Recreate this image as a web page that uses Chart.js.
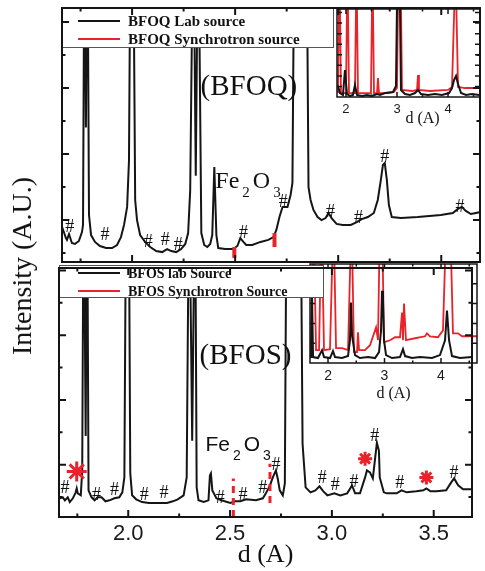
<!DOCTYPE html>
<html lang="en">
<head>
<meta charset="utf-8">
<title>BFOQ / BFOS</title>
<script src="https://cdn.jsdelivr.net/npm/chart.js@4.4.1/dist/chart.umd.min.js"></script>
<style>
  html, body { margin: 0; padding: 0; background: #fff; }
  #figura { position: relative; width: 485px; height: 571px; overflow: hidden; background: #fff; }
  #figura canvas { position: absolute; }
  #eixoY {
    position: absolute; left: 22px; top: 266px;
    transform: translate(-50%, -50%) rotate(-90deg);
    font: 28px "Liberation Serif", "Times New Roman", serif;
    white-space: nowrap; color: #111;
  }
</style>
</head>
<body>
<div id="figura">
  <canvas id="insetQ" width="155" height="130" style="left:330px;top:0px;width:155px;height:130px"></canvas>
  <canvas id="insetS" width="182" height="145" style="left:303px;top:258px;width:182px;height:145px"></canvas>
  <canvas id="painelS" width="485" height="316" style="left:0px;top:255px;width:485px;height:316px"></canvas>
  <canvas id="painelQ" width="485" height="270" style="left:0px;top:0px;width:485px;height:270px"></canvas>
  <div id="eixoY">Intensity (A.U.)</div>
</div>
<script>
// ---- dados ----
// eixo x: d (A); intensidade em unidades arbitrarias (0-100 por painel, picos acima de 100 saem do quadro)

// painel superior, BFOQ fonte de laboratorio
const dQ = [1.660, 1.669, 1.679, 1.684, 1.694, 1.708, 1.723, 1.742, 1.757, 1.762, 1.769, 1.776, 1.783, 1.791, 1.801,
  1.820, 1.844, 1.874, 1.903, 1.927, 1.946, 1.961, 1.976, 1.985, 1.993, 2.005, 2.015, 2.024, 2.039, 2.063, 2.088,
  2.117, 2.146, 2.170, 2.190, 2.214, 2.238, 2.258, 2.272, 2.282, 2.297, 2.309, 2.321, 2.336, 2.350, 2.365, 2.379,
  2.389, 2.399, 2.409, 2.418, 2.452, 2.491, 2.511, 2.525, 2.540, 2.554, 2.583, 2.623, 2.661, 2.686, 2.700, 2.715,
  2.730, 2.754, 2.769, 2.778, 2.788, 2.846, 2.856, 2.866, 2.880, 2.900, 2.919, 2.939, 2.953, 2.968, 2.992, 3.022,
  3.061, 3.090, 3.114, 3.144, 3.173, 3.192, 3.207, 3.217, 3.226, 3.236, 3.246, 3.260, 3.304, 3.386, 3.498, 3.556,
  3.581, 3.600, 3.619, 3.644, 3.668, 3.692];
const intQ = [13.8, 11.8, 9.4, 8.7, 11.0, 7.5, 7.1, 8.3, 11.8, 14.6, 140, 53, 140, 18.5, 10.6,
  7.9, 6.3, 5.5, 5.5, 6.7, 9.8, 14.6, 21.7, 40, 140, 140, 24.4, 16.5, 10.6, 7.9, 5.9,
  4.3, 3.9, 5.1, 4.3, 3.9, 5.1, 7.1, 11.4, 28.3, 140, 34, 140, 11.4, 6.7, 5.9, 7.1,
  10.6, 37.4, 10.6, 5.5, 5.1, 5.1, 6.3, 9.4, 7.9, 6.7, 6.7, 7.9, 8.7, 9.8, 12.6, 17.7,
  21.7, 21.7, 26.4, 31.1, 140, 140, 29.5, 24.4, 20.5, 17.7, 16.5, 17.3, 19.3, 17.3, 15.0, 14.6,
  14.6, 15.7, 16.9, 17.7, 19.3, 24.4, 32.3, 38.2, 39.0, 32.3, 22.4, 17.7, 17.3, 17.7, 18.5, 19.3,
  20.9, 21.7, 20.1, 18.9, 19.3, 19.7];

// painel inferior, BFOS fonte de laboratorio
const dS = [1.664, 1.679, 1.689, 1.703, 1.713, 1.728, 1.742, 1.747, 1.752, 1.767, 1.774, 1.781, 1.791, 1.798, 1.805,
  1.820, 1.835, 1.849, 1.869, 1.888, 1.908, 1.932, 1.956, 1.971, 1.981, 1.990, 2.002, 2.010, 2.019, 2.039, 2.068,
  2.102, 2.151, 2.190, 2.219, 2.243, 2.272, 2.287, 2.299, 2.314, 2.328, 2.336, 2.345, 2.370, 2.394, 2.401, 2.406,
  2.413, 2.433, 2.457, 2.501, 2.525, 2.550, 2.579, 2.627, 2.661, 2.676, 2.696, 2.710, 2.725, 2.734, 2.744, 2.759,
  2.769, 2.778, 2.846, 2.856, 2.871, 2.895, 2.919, 2.939, 2.958, 2.978, 3.012, 3.041, 3.075, 3.099, 3.114, 3.138,
  3.163, 3.172, 3.187, 3.201, 3.211, 3.221, 3.231, 3.235, 3.255, 3.269, 3.318, 3.342, 3.367, 3.415, 3.449, 3.464,
  3.484, 3.513, 3.561, 3.586, 3.600, 3.620, 3.644, 3.688];
const intS = [7.5, 7.9, 6.7, 7.9, 6.0, 7.5, 9.9, 11.5, 9.5, 8.7, 18.7, 140, 32.5, 140, 10.7,
  7.9, 6.7, 7.9, 7.9, 6.3, 6.7, 7.5, 7.9, 9.9, 15.9, 140, 140, 17.5, 8.7, 7.1, 6.0,
  5.6, 5.6, 5.6, 6.3, 7.1, 8.7, 15.9, 140, 30.6, 140, 11.9, 6.7, 6.0, 6.7, 16.7, 17.5,
  10.7, 7.5, 6.7, 5.6, 6.3, 6.3, 7.1, 6.7, 7.5, 9.5, 12.7, 15.9, 18.7, 15.5, 10.7, 8.7,
  13.5, 140, 140, 29.4, 11.9, 9.9, 10.7, 12.3, 10.3, 8.7, 9.5, 8.7, 9.5, 12.7, 9.5, 9.5,
  15.9, 18.7, 17.9, 15.5, 22.6, 29.8, 26.6, 15.9, 9.9, 9.5, 9.5, 10.7, 9.9, 10.3, 10.7, 11.5,
  10.3, 10.3, 10.7, 13.9, 15.5, 12.7, 11.1, 11.1];

// inset superior (BFOQ)
const dQiLab = [1.843, 1.882, 1.941, 1.980, 2.020, 2.078, 2.137, 2.176, 2.216, 2.314, 2.412, 2.510, 2.608, 2.667,
  2.765, 2.922, 2.980, 3.010, 3.049, 3.078, 3.157, 3.255, 3.353, 3.412, 3.471, 3.608, 3.745, 3.882, 4.020, 4.078,
  4.118, 4.157, 4.196, 4.255, 4.353, 4.471, 4.608];
const intQiLab = [13, 4.5, 2.3, 30.7, 3.4, 1.1, 2.3, 13.6, 2.3, 1.1, 2.3, 1.1, 3.4, 2.3,
  4.5, 5.7, 12.5, 150, 150, 8, 3.4, 2.3, 4.5, 8, 3.4, 2.3, 3.4, 2.3, 4.5, 10.2,
  19.3, 23.9, 14.8, 4.5, 2.3, 3.4, 2.3];
const dQiSin = [1.843, 1.873, 1.902, 2.000, 2.029, 2.059, 2.176, 2.206, 2.235, 2.373, 2.490, 2.520, 2.549, 2.608,
  2.627, 2.647, 2.824, 2.941, 3.000, 3.029, 3.069, 3.098, 3.294, 3.392, 3.412, 3.431, 3.647, 4.000, 4.078, 4.147,
  4.196, 4.333, 4.608];
const intQiSin = [4.5, 150, 4.5, 4.5, 150, 4.5, 4.5, 150, 4.5, 4.5, 4.5, 150, 4.5, 4.5,
  21.6, 4.5, 4.5, 5.7, 10.2, 150, 150, 8, 6.8, 8, 25, 8, 6.8, 8, 11.4, 150,
  11.4, 10.2, 10.2];

// inset inferior (BFOS)
const dSiLab = [1.699, 1.717, 1.735, 1.823, 1.894, 1.929, 2.035, 2.088, 2.124, 2.248, 2.354, 2.389, 2.407, 2.425,
  2.478, 2.566, 2.708, 2.832, 2.903, 2.938, 2.956, 2.973, 2.991, 3.027, 3.133, 3.274, 3.327, 3.363, 3.487, 3.628,
  3.841, 3.982, 4.071, 4.106, 4.142, 4.195, 4.336, 4.549];
const intSiLab = [5, 68, 6, 5, 13, 6, 5, 12, 6, 5, 7, 23, 61, 28,
  8, 5, 6, 5, 11, 33, 73, 63, 23, 8, 5, 6, 14, 7, 5, 6,
  5, 8, 23, 53, 23, 7, 5, 6];
const dSiSin = [1.699, 1.743, 1.788, 1.841, 1.885, 1.929, 2.035, 2.097, 2.142, 2.248, 2.354, 2.416, 2.460, 2.513,
  2.531, 2.549, 2.655, 2.743, 2.850, 2.885, 2.920, 2.956, 2.991, 3.097, 3.186, 3.274, 3.310, 3.327, 3.345, 3.380,
  3.540, 3.717, 3.752, 3.805, 3.947, 4.035, 4.097, 4.159, 4.212, 4.301, 4.372, 4.637];
const intSiSin = [13, 150, 13, 13, 150, 13, 14, 150, 15, 15, 13, 150, 11, 11,
  31, 13, 13, 18, 36, 23, 150, 150, 21, 23, 26, 26, 51, 23, 60, 23,
  25, 27, 30, 27, 26, 33, 150, 150, 30, 30, 27, 27];

// marcas '#' (fase secundaria) e '*'
const cerqQd = [1.698, 1.869, 2.078, 2.161, 2.224, 2.540, 2.734, 2.963, 3.099, 3.226, 3.591];
const cerqQi = [13.8, 10.6, 7.9, 8.7, 6.7, 11.4, 23.6, 19.7, 17.3, 41.3, 21.7];
const cerqSd = [1.689, 1.844, 1.932, 2.078, 2.175, 2.452, 2.564, 2.661, 2.725, 2.953, 3.017, 3.109, 3.211, 3.333, 3.600];
const cerqSi = [11.5, 8.7, 10.7, 8.7, 9.5, 7.5, 8.7, 11.5, 20.6, 15.5, 12.7, 13.9, 32.5, 13.5, 17.5];
const estrelaSd = [1.747, 3.163, 3.464];
const estrelaSi = [18.3, 23.4, 15.9];

// posicoes de referencia do Fe2O3 (tracos vermelhos)
const feQd = [2.496, 2.691];
const feQde = [1.6, 5.9];
const feQate = [5.9, 11.4];
const feSd = [2.516, 2.696];
const feSde = [0, 5.6];
const feSate = [15.5, 21.4];

// ticks
const xRotulos = [2.0, 2.5, 3.0, 3.5];
const xMenores = [1.75, 2.25, 2.75, 3.25];
const insetRotulos = [2, 3, 4];
const legendaQ = ['BFOQ Lab source', 'BFOQ Synchrotron source'];
const legendaS = ['BFOS lab Source', 'BFOS Synchrotron Source'];

// ---- desenho ----
const PRETO = '#151515';
const VERMELHO = '#e8232a';
const SERIF = '"Liberation Serif", "Times New Roman", serif';
const SANS = '"Liberation Sans", Arial, sans-serif';

Chart.defaults.font.family = SERIF;
Chart.defaults.color = '#111';

const pares = (xs, ys) => xs.map((x, i) => ({ x: x, y: ys[i] }));

const legendaCaixa = {
  id: 'legendaCaixa',
  afterDatasetsDraw(chart, args, o) {
    if (!o.itens) return;
    const ctx = chart.ctx;
    ctx.save();
    ctx.fillStyle = '#fff';
    ctx.fillRect(o.x, o.y, o.w, o.h);
    ctx.strokeStyle = '#555';
    ctx.lineWidth = 1;
    ctx.strokeRect(o.x + 0.5, o.y + 0.5, o.w, o.h);
    o.itens.forEach((it, k) => {
      const y = o.y + o.linhas[k];
      ctx.strokeStyle = it.cor;
      ctx.lineWidth = 2;
      ctx.beginPath();
      ctx.moveTo(o.x + o.traco[0], y);
      ctx.lineTo(o.x + o.traco[1], y);
      ctx.stroke();
      ctx.fillStyle = '#111';
      ctx.font = o.fonte;
      ctx.textBaseline = 'middle';
      ctx.textAlign = 'left';
      ctx.fillText(it.texto, o.x + o.texto, y + 1);
    });
    ctx.restore();
  }
};

const moldura = {
  id: 'moldura',
  afterDatasetsDraw(chart, args, o) {
    const { ctx, chartArea: a, scales } = chart;
    ctx.save();
    ctx.strokeStyle = '#141414';
    ctx.lineWidth = o.espessura;
    ctx.beginPath();
    const marcaX = (v, t) => {
      const x = scales.x.getPixelForValue(v);
      ctx.moveTo(x, a.bottom); ctx.lineTo(x, a.bottom - t);
      ctx.moveTo(x, a.top); ctx.lineTo(x, a.top + t);
    };
    const marcaY = (v, t) => {
      const y = scales.y.getPixelForValue(v);
      ctx.moveTo(a.left, y); ctx.lineTo(a.left + t, y);
      ctx.moveTo(a.right, y); ctx.lineTo(a.right - t, y);
    };
    o.xMaior.forEach(v => marcaX(v, o.tam));
    o.xMenor.forEach(v => marcaX(v, o.tam / 2));
    o.yMaior.forEach(v => marcaY(v, o.tam));
    o.yMenor.forEach(v => marcaY(v, o.tam / 2));
    ctx.stroke();
    ctx.strokeRect(a.left, a.top, a.right - a.left, a.bottom - a.top);
    ctx.restore();
  }
};

const anotacoes = {
  id: 'anotacoes',
  afterDatasetsDraw(chart, args, o) {
    const { ctx, scales } = chart;
    const px = v => scales.x.getPixelForValue(v);
    const py = v => scales.y.getPixelForValue(v);
    ctx.save();
    ctx.fillStyle = '#111';
    ctx.textAlign = 'center';
    ctx.textBaseline = 'middle';
    if (o.cerqD) {
      ctx.font = o.fonteCerq;
      o.cerqD.forEach((d, i) => ctx.fillText('#', px(d), py(o.cerqI[i])));
    }
    (o.textos || []).forEach(t => {
      ctx.font = t.fonte;
      ctx.fillText(t.texto, px(t.d), py(t.i));
    });
    if (o.formula) {
      const f = o.formula;
      let x = px(f.d);
      const y = py(f.i);
      ctx.textAlign = 'left';
      ctx.textBaseline = 'alphabetic';
      f.partes.forEach(([txt, sub]) => {
        ctx.font = sub ? f.fonteSub : f.fonte;
        ctx.fillText(txt, x, sub ? y + f.desce : y);
        x += ctx.measureText(txt).width + f.espaco;
      });
    }
    ctx.restore();
  }
};

const curva = (dados, cor, largura, ordem) => ({
  data: dados, showLine: true, borderColor: cor, borderWidth: largura,
  pointRadius: 0, tension: 0, fill: false, order: ordem
});

const tracoFe = (d, de, ate, tracejado) => d.map((v, k) => ({
  data: [{ x: v, y: de[k] }, { x: v, y: ate[k] }],
  showLine: true, borderColor: VERMELHO, borderWidth: tracejado ? 3 : 4,
  borderDash: tracejado ? [7, 5] : [], pointRadius: 0, order: 0
}));

const base = {
  responsive: false, animation: false, devicePixelRatio: 1, events: []
};

// painel superior
new Chart(document.getElementById('painelQ'), {
  type: 'scatter',
  data: { datasets: [curva(pares(dQ, intQ), PRETO, 2, 1), ...tracoFe(feQd, feQde, feQate, false)] },
  options: {
    ...base,
    layout: { padding: { left: 62, right: 5, top: 8, bottom: 8 } },
    scales: {
      x: { type: 'linear', min: 1.66, max: 3.688, display: false },
      y: { min: 0, max: 100, display: false }
    },
    plugins: {
      legend: { display: false }, tooltip: { enabled: false },
      legendaCaixa: {
        x: 62, y: 8, w: 271, h: 39, linhas: [13, 31], traco: [16, 58], texto: 66,
        fonte: 'bold 15px ' + SERIF,
        itens: [{ texto: legendaQ[0], cor: PRETO }, { texto: legendaQ[1], cor: VERMELHO }]
      },
      moldura: { espessura: 2, tam: 7, xMaior: xRotulos, xMenor: xMenores,
        yMaior: [16.5, 42.5, 68.5, 94.5], yMenor: [3.5, 29.5, 55.5, 81.5] },
      anotacoes: {
        cerqD: cerqQd, cerqI: cerqQi, fonteCerq: '18px ' + SERIF,
        textos: [{ texto: '(BFOQ)', d: 2.567, i: 68.7, fonte: '29px ' + SERIF }],
        formula: { d: 2.404, i: 29.1, fonte: '24px ' + SERIF, fonteSub: '15px ' + SERIF, desce: 9, espaco: 3,
          partes: [['Fe', false], ['2', true], ['O', false], ['3', true]] }
      }
    }
  },
  plugins: [legendaCaixa, moldura, anotacoes]
});

// painel inferior
new Chart(document.getElementById('painelS'), {
  type: 'scatter',
  data: {
    datasets: [
      curva(pares(dS, intS), PRETO, 2, 2),
      ...tracoFe(feSd, feSde, feSate, true),
      { data: pares(estrelaSd, estrelaSi), pointStyle: 'star', pointRadius: [10, 7, 7],
        borderColor: VERMELHO, backgroundColor: VERMELHO, pointBorderWidth: 3, showLine: false, order: 0 }
    ]
  },
  options: {
    ...base,
    layout: { padding: { left: 59, right: 9, top: 10, bottom: 0 } },
    scales: {
      x: {
        type: 'linear', min: 1.66, max: 3.688, position: 'bottom',
        grid: { display: false, drawTicks: false }, border: { display: false },
        afterBuildTicks: s => { s.ticks = xRotulos.map(v => ({ value: v })); },
        afterFit: s => { s.height = 54; },
        ticks: { padding: 4, autoSkip: false, maxRotation: 0, color: '#1a1a1a',
          font: { family: SANS, size: 22 }, callback: v => v.toFixed(1) },
        title: { display: true, text: 'd (A)', padding: 0, color: '#111', font: { family: SERIF, size: 26 } }
      },
      y: { min: 0, max: 100, display: false }
    },
    plugins: {
      legend: { display: false }, tooltip: { enabled: false },
      legendaCaixa: {
        x: 59, y: 10, w: 264, h: 32, linhas: [8, 26], traco: [19, 61], texto: 69,
        fonte: 'bold 14px ' + SERIF,
        itens: [{ texto: legendaS[0], cor: PRETO }, { texto: legendaS[1], cor: VERMELHO }]
      },
      moldura: { espessura: 2, tam: 7, xMaior: xRotulos, xMenor: xMenores,
        yMaior: [21, 47, 73, 99], yMenor: [8, 34, 60, 86] },
      anotacoes: {
        cerqD: cerqSd, cerqI: cerqSi, fonteCerq: '18px ' + SERIF,
        textos: [{ texto: '(BFOS)', d: 2.576, i: 64.7, fonte: '29px ' + SERIF }],
        formula: { d: 2.379, i: 26.6, fonte: '21px ' + SANS, fonteSub: '14px ' + SANS, desce: 9, espaco: 3,
          partes: [['Fe', false], ['2', true], ['O', false], ['3', true]] }
      }
    }
  },
  plugins: [legendaCaixa, moldura, anotacoes]
});

// insets
function inset(id, lab, sin, rotulos, padding, altEixo, opcoesFonte, tituloEixo, textos, yTicks) {
  new Chart(document.getElementById(id), {
    type: 'scatter',
    data: {
      datasets: [
        { ...curva(lab, PRETO, 2, 1), label: rotulos[0] },
        { ...curva(sin, VERMELHO, 1.8, 2), label: rotulos[1] }
      ]
    },
    options: {
      ...base,
      layout: { padding: padding },
      scales: {
        x: {
          type: 'linear', min: opcoesFonte.min, max: opcoesFonte.max, position: 'bottom',
          grid: { display: false, drawTicks: false }, border: { display: false },
          afterBuildTicks: s => { s.ticks = insetRotulos.map(v => ({ value: v })); },
          afterFit: s => { s.height = altEixo; },
          ticks: { padding: 5, autoSkip: false, maxRotation: 0, color: '#1a1a1a',
            font: { family: SANS, size: opcoesFonte.tam }, callback: v => String(v) },
          title: tituloEixo
        },
        y: { min: 0, max: 100, display: false }
      },
      plugins: {
        legend: { display: false }, tooltip: { enabled: false },
        moldura: { espessura: 1.5, tam: 5, xMaior: insetRotulos, xMenor: [2.5, 3.5, 4.5],
          yMaior: yTicks, yMenor: [] },
        anotacoes: { textos: textos }
      }
    },
    plugins: [moldura, anotacoes]
  });
}

inset('insetQ', pares(dQiLab, intQiLab), pares(dQiSin, intQiSin), legendaQ,
  { left: 7, right: 5, top: 9, bottom: 0 }, 33, { min: 1.824, max: 4.627, tam: 13 },
  { display: false },
  [{ texto: 'd (A)', d: 3.5, i: -25, fonte: '16px ' + SERIF }],
  [12, 24, 36, 48, 60, 72, 84, 96]);

inset('insetS', pares(dSiLab, intSiLab), pares(dSiSin, intSiSin), legendaS,
  { left: 7, right: 8, top: 6, bottom: 0 }, 40, { min: 1.681, max: 4.637, tam: 14 },
  { display: true, text: 'd (A)', padding: 0, color: '#111', font: { family: SERIF, size: 16 } },
  [],
  [20, 40, 60, 80]);
</script>
</body>
</html>
